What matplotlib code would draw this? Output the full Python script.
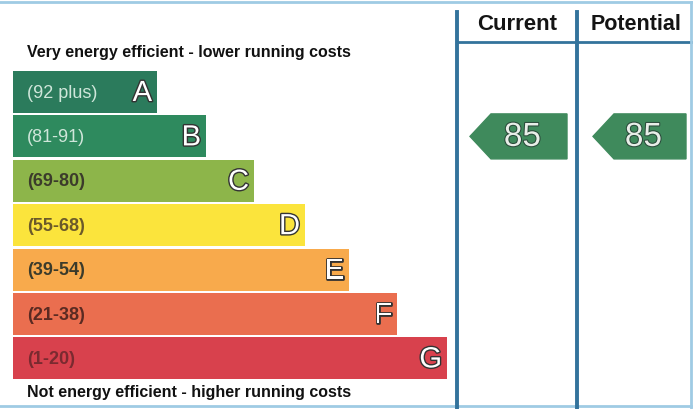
import matplotlib
matplotlib.use("Agg")
import matplotlib.pyplot as plt
import matplotlib.patheffects as pe
from matplotlib.patches import Polygon

# EPC bands
letters = ["A", "B", "C", "D", "E", "F", "G"]
ranges = ["(92 plus)", "(81-91)", "(69-80)", "(55-68)", "(39-54)", "(21-38)", "(1-20)"]
bar_right = [157, 206, 254, 305, 349, 397, 447]
colors = ["#2b7b5c", "#2e8a5e", "#8db54a", "#fbe43c", "#f8aa4c", "#ea6e4f", "#d8414d"]
range_col = ["#cfe6da", "#cfe6da", "#3b3b2b", "#6b5a2a", "#3b3b2b", "#5a2a22", "#7a2a30"]

current = 85
potential = 85
headers = ["Current", "Potential"]

plt.rcParams['font.family'] = ['Liberation Sans', 'DejaVu Sans']

fig = plt.figure(figsize=(6.93, 4.09), dpi=100)
ax = fig.add_axes([0, 0, 1, 1])
ax.set_xlim(0, 693)
ax.set_ylim(409, 0)
ax.axis("off")

# frame lines
line_c = "#33739c"
ax.plot([0, 693], [2, 2], color="#9fcbe4", lw=2)
ax.plot([0, 693], [406, 406], color="#9fcbe4", lw=2)
ax.plot([457, 693], [42, 42], color=line_c, lw=2)
for xv in [457, 577]:
    ax.plot([xv, xv], [12, 409], color=line_c, lw=2.8)
ax.plot([691, 691], [2, 409], color="#9fcbe4", lw=2)

# header text
ax.text(517, 25, headers[0], ha="center", va="center", fontsize=16, fontweight="bold", color="#141414")
ax.text(636, 25, headers[1], ha="center", va="center", fontsize=15.5, fontweight="bold", color="#141414")

ax.text(27, 52, "Very energy efficient - lower running costs", ha="left", va="center",
        fontsize=11.5, fontweight="bold", color="#111111")
ax.text(27, 392, "Not energy efficient - higher running costs", ha="left", va="center",
        fontsize=11.5, fontweight="bold", color="#111111")

# bands
y0 = 92
step = 44.4
outline = [pe.withStroke(linewidth=2.0, foreground="#333333")]
for i, (lt, rg, r, c) in enumerate(zip(letters, ranges, bar_right, colors)):
    yc = y0 + i * step
    ax.barh(yc, r - 13, left=13, height=42, color=c, edgecolor="none")
    ax.text(27, yc + 1, rg, ha="left", va="center", fontsize=13,
            fontweight="normal" if i < 2 else "bold", color=range_col[i])
    ax.text(r - 5, yc + 1, lt, ha="right", va="center", fontsize=21, color="white",
            path_effects=outline)

# arrows for current / potential
def rating_y(v):
    lows = [92, 81, 69, 55, 39, 21, 1]
    for i, lo in enumerate(lows):
        if v >= lo:
            return y0 + i * step, i
    return y0 + 6 * step, 6

arrow_c = "#3f8a5c"
for val, (tip, right) in zip([current, potential], [(470, 567), (593, 686)]):
    yc, idx = rating_y(val)
    h = 22.5
    pts = [(tip, yc), (tip + 21, yc - h), (right, yc - h), (right, yc + h), (tip + 21, yc + h)]
    ax.add_patch(Polygon(pts, closed=True, color=arrow_c))
    ax.text((tip + right) / 2 + 4, yc + 1, str(val), ha="center", va="center", fontsize=24,
            color="#e8eee8", path_effects=[pe.withStroke(linewidth=1.5, foreground="#2a4a3a")])

fig.savefig("out.png", dpi=100)
